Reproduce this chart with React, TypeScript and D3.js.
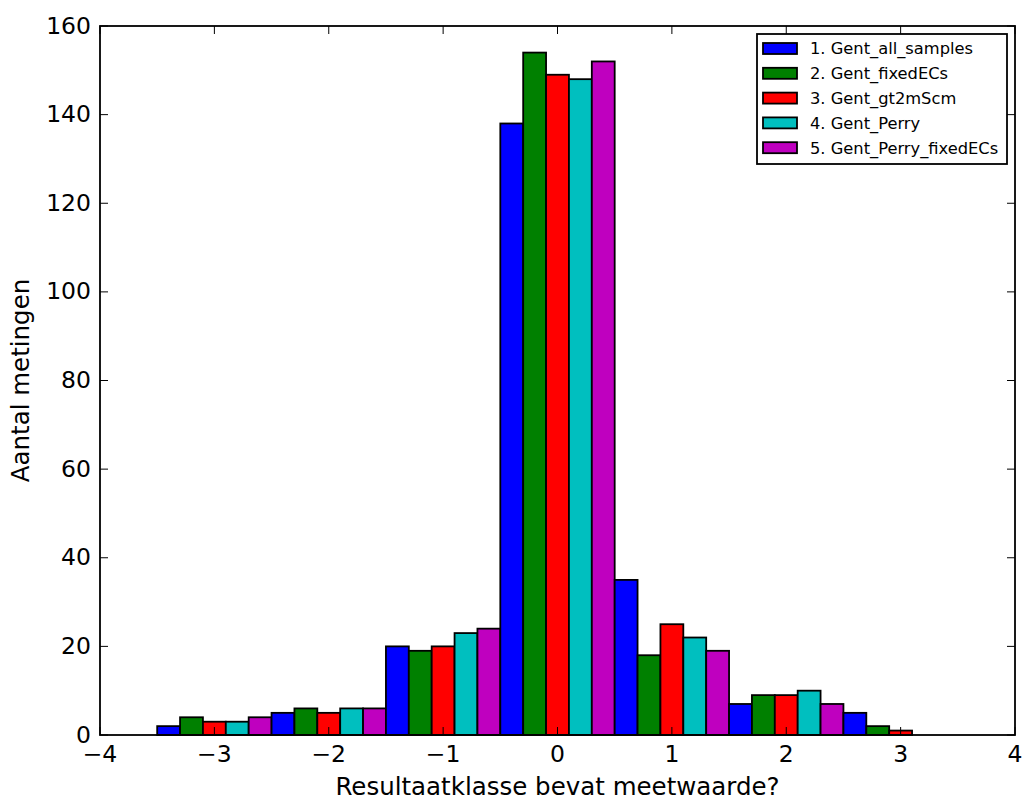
import React from "react";
import * as d3 from "d3";

const binEdges = [-3.5, -2.5, -1.5, -0.5, 0.5, 1.5, 2.5, 3.5];
const seriesNames = [
  "1. Gent_all_samples",
  "2. Gent_fixedECs",
  "3. Gent_gt2mScm",
  "4. Gent_Perry",
  "5. Gent_Perry_fixedECs",
];
const seriesColors = ["#0000ff", "#008000", "#ff0000", "#00bfbf", "#bf00bf"];
const gentAllSamples = [2, 5, 20, 138, 35, 7, 5];
const gentFixedECs = [4, 6, 19, 154, 18, 9, 2];
const gentGt2mScm = [3, 5, 20, 149, 25, 9, 1];
const gentPerry = [3, 6, 23, 148, 22, 10, 0];
const gentPerryFixedECs = [4, 6, 24, 152, 19, 7, 0];
const seriesValues = [gentAllSamples, gentFixedECs, gentGt2mScm, gentPerry, gentPerryFixedECs];
const xTicks = [-4, -3, -2, -1, 0, 1, 2, 3, 4];
const yTicks = [0, 20, 40, 60, 80, 100, 120, 140, 160];
const xLabel = "Resultaatklasse bevat meetwaarde?";
const yLabel = "Aantal metingen";

const W = 1022;
const H = 800;
const L = 100, R = 1015, T = 26, B = 735;
const FONT = "DejaVu Sans, sans-serif";
const FS = 23.5;
const LFS = 24.5;

export default function App() {
  const x = d3.scaleLinear().domain([-4, 4]).range([L, R]);
  const y = d3.scaleLinear().domain([0, 160]).range([B, T]);
  const fmt = d3.format("");
  const tickLen = 8;

  const bars: JSX.Element[] = [];
  for (let b = 0; b < binEdges.length - 1; b++) {
    const band = d3
      .scaleBand<number>()
      .domain(d3.range(seriesNames.length))
      .range([x(binEdges[b]), x(binEdges[b + 1])])
      .padding(0);
    seriesValues.forEach((vals, s) => {
      const v = vals[b];
      if (v <= 0) return;
      bars.push(
        <rect
          key={`${b}-${s}`}
          x={band(s)}
          y={y(v)}
          width={band.bandwidth()}
          height={y(0) - y(v)}
          fill={seriesColors[s]}
          stroke="#000"
          strokeWidth={1.8}
        />
      );
    });
  }

  const legX = 757, legY = 34, legW = 250, legH = 130;
  const rowY0 = 48.5, rowStep = 24.8;

  return (
    <svg
      width={W}
      height={H}
      style={{ position: "absolute", left: 0, top: 0, background: "#fff" }}
      fontFamily={FONT}
    >
      <rect x={0} y={0} width={W} height={H} fill="#fff" />
      <g>{bars}</g>
      <g stroke="#000" strokeWidth={1}>
        {xTicks.map((t) => (
          <g key={`xt${t}`}>
            <line x1={x(t)} x2={x(t)} y1={B} y2={B - tickLen} />
            <line x1={x(t)} x2={x(t)} y1={T} y2={T + tickLen} />
          </g>
        ))}
        {yTicks.map((t) => (
          <g key={`yt${t}`}>
            <line x1={L} x2={L + tickLen} y1={y(t)} y2={y(t)} />
            <line x1={R} x2={R - tickLen} y1={y(t)} y2={y(t)} />
          </g>
        ))}
      </g>
      <rect x={L} y={T} width={R - L} height={B - T} fill="none" stroke="#000" strokeWidth={1.8} />
      <g fontSize={FS} fill="#000">
        {xTicks.map((t) => (
          <text key={`xl${t}`} x={x(t)} y={762} textAnchor="middle">
            {fmt(t)}
          </text>
        ))}
        {yTicks.map((t) => (
          <text key={`yl${t}`} x={91} y={y(t)} dy="0.32em" textAnchor="end">
            {fmt(t)}
          </text>
        ))}
      </g>
      <text x={(L + R) / 2} y={795} textAnchor="middle" fontSize={LFS}>
        {xLabel}
      </text>
      <text
        transform={`translate(29, ${(T + B) / 2}) rotate(-90)`}
        textAnchor="middle"
        fontSize={LFS}
      >
        {yLabel}
      </text>
      <g>
        <rect x={legX} y={legY} width={legW} height={legH} fill="#fff" stroke="#000" strokeWidth={1.8} />
        {seriesNames.map((name, i) => (
          <g key={name}>
            <rect
              x={763}
              y={rowY0 + i * rowStep - 5.5}
              width={34}
              height={11}
              fill={seriesColors[i]}
              stroke="#000"
              strokeWidth={1.8}
            />
            <text x={810} y={rowY0 + i * rowStep} dy="0.36em" fontSize={16.3}>
              {name}
            </text>
          </g>
        ))}
      </g>
    </svg>
  );
}
